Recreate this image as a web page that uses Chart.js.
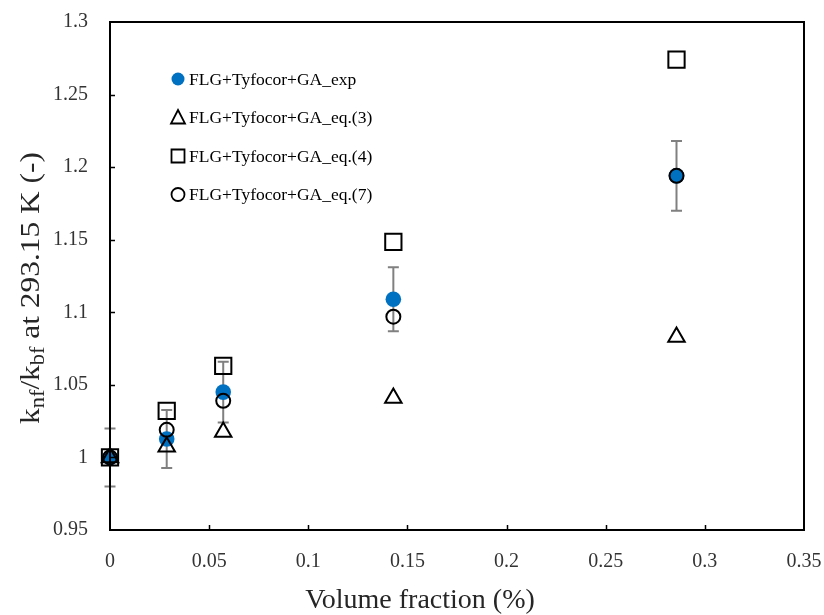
<!DOCTYPE html>
<html>
<head>
<meta charset="utf-8">
<script src="https://cdn.jsdelivr.net/npm/chart.js@4.4.1/dist/chart.umd.min.js"></script>
<style>
  html, body { margin: 0; padding: 0; background: #fff; }
  canvas { display: block; }
</style>
</head>
<body>
<canvas id="grafico" width="824" height="615"></canvas>
<script>
// Dados
const fracaoVolume = [0, 0.0286, 0.0571, 0.1429, 0.2857];
const razaoExp = [1.0, 1.0127, 1.045, 1.109, 1.194];
const erroExp = [0.02, 0.02, 0.021, 0.022, 0.024];
const razaoEq3 = [1.0, 1.0074, 1.0175, 1.041, 1.083];
const razaoEq4 = [1.0, 1.032, 1.063, 1.1485, 1.274];
const razaoEq7 = [1.0, 1.019, 1.039, 1.097, 1.194];
const rotulos = [
    'FLG+Tyfocor+GA_exp',
    'FLG+Tyfocor+GA_eq.(3)',
    'FLG+Tyfocor+GA_eq.(4)',
    'FLG+Tyfocor+GA_eq.(7)',
];
const tituloX = 'Volume fraction (%)';

const SERIF = "'Liberation Serif', 'Times New Roman', serif";
const AZUL = '#0070C0';

const pontos = (ys) => fracaoVolume.map((x, i) => ({ x, y: ys[i] }));
const fmt = (v) => String(+v.toFixed(2));

// Barras de erro, moldura, marcas internas, legenda e títulos dos eixos
const extras = {
    id: 'extras',
    beforeDatasetsDraw(chart) {
        const { ctx, scales: { x, y } } = chart;
        ctx.save();
        ctx.strokeStyle = '#808080';
        ctx.lineWidth = 2;
        fracaoVolume.forEach((v, i) => {
            const px = x.getPixelForValue(v);
            const top = y.getPixelForValue(razaoExp[i] + erroExp[i]);
            const bot = y.getPixelForValue(razaoExp[i] - erroExp[i]);
            ctx.beginPath();
            ctx.moveTo(px, top); ctx.lineTo(px, bot);
            ctx.moveTo(px - 5.5, top); ctx.lineTo(px + 5.5, top);
            ctx.moveTo(px - 5.5, bot); ctx.lineTo(px + 5.5, bot);
            ctx.stroke();
        });
        ctx.restore();
    },
    afterDraw(chart) {
        const { ctx, chartArea: a, scales: { x, y } } = chart;
        ctx.save();
        ctx.strokeStyle = '#000';
        ctx.lineWidth = 2;
        ctx.strokeRect(a.left, a.top, a.right - a.left, a.bottom - a.top);
        ctx.lineWidth = 1.5;
        ctx.beginPath();
        x.ticks.forEach((t) => {
            if (t.value <= x.min || t.value >= x.max) return;
            const px = Math.round(x.getPixelForValue(t.value)) + 0.5;
            ctx.moveTo(px, a.bottom); ctx.lineTo(px, a.bottom - 5);
        });
        y.ticks.forEach((t) => {
            if (t.value <= y.min || t.value >= y.max) return;
            const py = Math.round(y.getPixelForValue(t.value)) + 0.5;
            ctx.moveTo(a.left, py); ctx.lineTo(a.left + 5, py);
        });
        ctx.stroke();

        // Legenda dentro da área do gráfico
        ctx.font = '17.5px ' + SERIF;
        ctx.textBaseline = 'middle';
        const estilos = ['dot', 'tri', 'sq', 'circ'];
        rotulos.forEach((txt, i) => {
            const cy = 79 + i * 38.5;
            const cx = 178;
            ctx.lineWidth = 1.8;
            ctx.strokeStyle = '#000';
            ctx.beginPath();
            if (estilos[i] === 'dot') {
                ctx.fillStyle = AZUL;
                ctx.arc(cx, cy, 6.5, 0, Math.PI * 2);
                ctx.fill();
            } else if (estilos[i] === 'tri') {
                ctx.moveTo(cx, cy - 7.5); ctx.lineTo(cx + 7, cy + 6); ctx.lineTo(cx - 7, cy + 6); ctx.closePath();
                ctx.stroke();
            } else if (estilos[i] === 'sq') {
                ctx.rect(cx - 6.5, cy - 6.5, 13, 13);
                ctx.stroke();
            } else {
                ctx.arc(cx, cy, 6.5, 0, Math.PI * 2);
                ctx.stroke();
            }
            ctx.fillStyle = '#000';
            ctx.fillText(txt, 189, cy + 1);
        });

        // Título do eixo X
        ctx.fillStyle = '#262626';
        ctx.font = '28px ' + SERIF;
        ctx.textAlign = 'center';
        ctx.textBaseline = 'middle';
        ctx.fillText(tituloX, 420, 601);

        // Título do eixo Y com índices (esticado ao comprimento do original)
        const partes = [
            { t: 'k' }, { t: 'nf', sub: true }, { t: '/k' }, { t: 'bf', sub: true },
            { t: ' at 293.15 K (-)' },
        ];
        const tam = 28, tamSub = 20;
        let largura = 0;
        partes.forEach((p) => {
            ctx.font = (p.sub ? tamSub : tam) + 'px ' + SERIF;
            p.w = ctx.measureText(p.t).width;
            largura += p.w;
        });
        ctx.translate(30, 288);
        ctx.rotate(-Math.PI / 2);
        ctx.scale(272 / largura, 1);
        ctx.textBaseline = 'alphabetic';
        ctx.textAlign = 'left';
        let pos = -largura / 2;
        partes.forEach((p) => {
            ctx.font = (p.sub ? tamSub : tam) + 'px ' + SERIF;
            ctx.fillText(p.t, pos, p.sub ? 14 : 9);
            pos += p.w;
        });
        ctx.restore();
    },
};

new Chart(document.getElementById('grafico'), {
    type: 'scatter',
    data: {
        datasets: [
            {
                label: rotulos[0], data: pontos(razaoExp), order: 4, clip: false,
                pointStyle: 'circle', pointRadius: 7.8, pointHoverRadius: 7.8,
                backgroundColor: AZUL, borderColor: AZUL, borderWidth: 0,
            },
            {
                label: rotulos[1], data: pontos(razaoEq3), order: 3, clip: false,
                pointStyle: 'triangle', pointRadius: 9.5, pointHoverRadius: 9.5,
                backgroundColor: 'rgba(0,0,0,0)', borderColor: '#000', borderWidth: 2,
            },
            {
                label: rotulos[2], data: pontos(razaoEq4), order: 2, clip: false,
                pointStyle: 'rect', pointRadius: 11.5, pointHoverRadius: 11.5,
                backgroundColor: 'rgba(0,0,0,0)', borderColor: '#000', borderWidth: 2,
            },
            {
                label: rotulos[3], data: pontos(razaoEq7), order: 1, clip: false,
                pointStyle: 'circle', pointRadius: 7, pointHoverRadius: 7,
                backgroundColor: 'rgba(0,0,0,0)', borderColor: '#000', borderWidth: 2,
            },
        ],
    },
    options: {
        responsive: false,
        animation: false,
        devicePixelRatio: 1,
        layout: { padding: { left: 0, right: 20, top: 22, bottom: 0 } },
        plugins: { legend: { display: false }, tooltip: { enabled: false } },
        scales: {
            x: {
                type: 'linear', min: 0, max: 0.35,
                ticks: { stepSize: 0.05, callback: fmt, padding: 20, color: '#333', font: { family: SERIF, size: 20 }, maxRotation: 0 },
                grid: { display: false, drawTicks: false },
                border: { display: false },
                afterFit: (s) => { s.height = 85; s.paddingLeft = 0; s.paddingRight = 0; },
            },
            y: {
                type: 'linear', min: 0.95, max: 1.3,
                ticks: { stepSize: 0.05, callback: fmt, padding: 22, color: '#333', font: { family: SERIF, size: 20 } },
                grid: { display: false, drawTicks: false },
                border: { display: false },
                afterFit: (s) => { s.width = 110; s.paddingTop = 0; s.paddingBottom = 0; },
            },
        },
    },
    plugins: [extras],
});
</script>
</body>
</html>
